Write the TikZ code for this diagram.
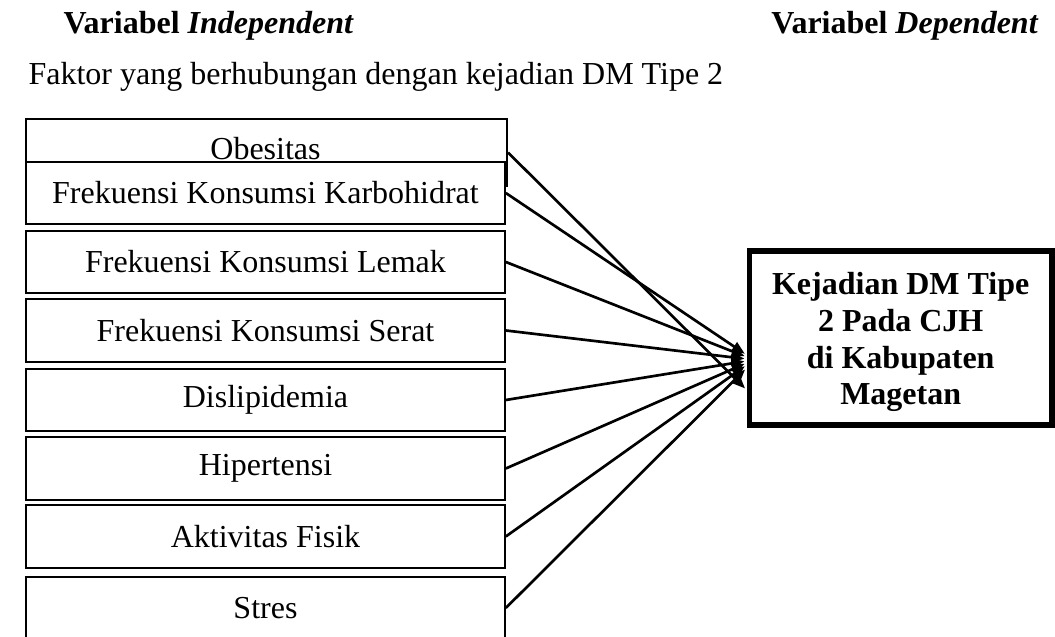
\documentclass[tikz,border=0pt]{standalone}
\usepackage{fontspec}
\setmainfont{Liberation Serif}
\usetikzlibrary{arrows.meta}

\begin{document}
\begin{tikzpicture}[x=0.375pt, y=-0.375pt,
    headText/.style={font=\fontsize{12}{14}\selectfont, inner sep=0pt},
    factorBox/.style={draw, line width=0.75pt, fill=white, minimum width=179.5pt,
        minimum height=23.6pt, inner sep=0pt, font=\fontsize{12}{14}\selectfont},
    outcomeBox/.style={draw, line width=2.05pt, minimum width=113.5pt, minimum height=65.25pt,
        align=center, inner sep=0pt, font=\bfseries\fontsize{12}{13.75}\selectfont},
    link/.style={line width=1pt, shorten >=0.8pt, -{Triangle[length=4.9pt, width=3.8pt]}}]
    \def\boxX{265.5}

    \useasboundingbox (0,0) rectangle (1055,637);

    % Headings
    \node[headText, anchor=base west] (headIndep) at (63,34) {\textbf{Variabel \textit{Independent}}};
    \node[headText, anchor=base east] (headDep) at (1039,34) {\textbf{Variabel \textit{Dependent}}};
    \node[headText, anchor=base west] (headFaktor) at (28,85) {Faktor yang berhubungan dengan kejadian DM Tipe 2};

    % Obesitas box, partly hidden by the next one
    \node[factorBox, minimum width=180.4pt, minimum height=25.1pt] (obesitas) at (266.5,152.5) {};
    \node[headText, anchor=base] (obesitasText) at (\boxX,160) {Obesitas};

    % Factor boxes
    \foreach \name/\ypos/\txt in {karbohidrat/193/Frekuensi Konsumsi Karbohidrat,
                                  lemak/262/Frekuensi Konsumsi Lemak,
                                  serat/330.5/Frekuensi Konsumsi Serat,
                                  dislipidemia/400/Dislipidemia,
                                  hipertensi/468.5/Hipertensi,
                                  aktivitas/536.5/Aktivitas Fisik,
                                  stres/608/Stres}
        \node[factorBox] (\name) at (\boxX,\ypos) {\txt};

    % Dependent variable
    \node[outcomeBox] (kejadian) at (900.7,338) {\rule{0pt}{11.5pt}Kejadian DM Tipe\\2 Pada CJH\\di Kabupaten\\Magetan};

    % Arrows into the dependent variable
    \foreach \name/\yend in {obesitas/390, karbohidrat/355, lemak/357, serat/359,
                             dislipidemia/361, hipertensi/363, aktivitas/365, stres/368}
        \draw[link] (\name.east) -- (kejadian.west |- 0,\yend);

\end{tikzpicture}
\end{document}
